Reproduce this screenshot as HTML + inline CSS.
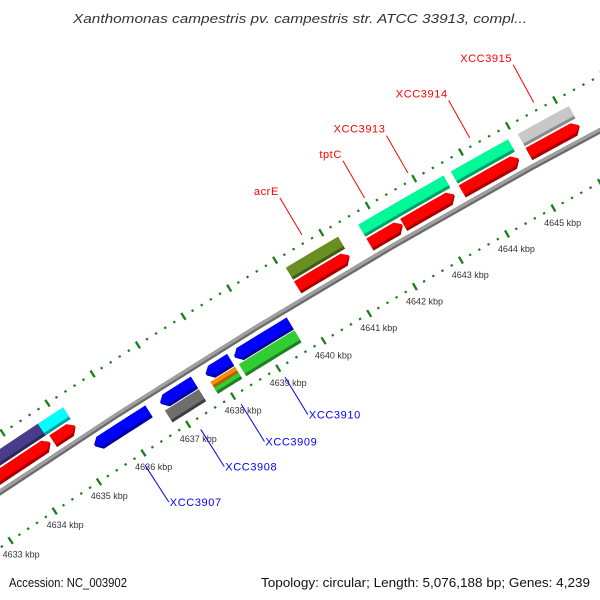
<!DOCTYPE html>
<html><head><meta charset="utf-8"><style>
html,body{margin:0;padding:0;background:#fff;width:600px;height:600px;overflow:hidden;}
svg{display:block;font-family:"Liberation Sans",sans-serif;overflow:hidden;}
</style></head><body>
<svg id="map" width="600" height="600" viewBox="0 0 600 600" xmlns="http://www.w3.org/2000/svg">
<rect width="600" height="600" fill="#fff"/>
<text x="300" y="23" text-anchor="middle" font-size="13" font-style="italic" fill="#333" textLength="454" lengthAdjust="spacingAndGlyphs">Xanthomonas campestris pv. campestris str. ATCC 33913, compl...</text>
<g id="rulers"></g>
<g id="backbone"></g>
<g id="features"></g>
<g id="labels"></g>
<text x="9" y="587" font-size="12.5" fill="#111" textLength="118" lengthAdjust="spacingAndGlyphs">Accession: NC_003902</text>
<text x="590" y="587" text-anchor="end" font-size="12.5" fill="#111" textLength="329" lengthAdjust="spacingAndGlyphs">Topology: circular; Length: 5,076,188 bp; Genes: 4,239</text>
</svg>
<script>
// ---- data (kbp) ----
const arrowStarts  = [4632.4, 4634.70, 4640.10, 4641.67, 4642.40, 4643.66, 4645.09, 4635.30, 4636.77, 4637.78, 4638.41];
const arrowEnds    = [4634.64, 4635.20, 4641.23, 4642.38, 4643.50, 4644.88, 4646.17, 4636.51, 4637.52, 4638.32, 4639.63];
const arrowStrands = [1, 1, 1, 1, 1, 1, 1, -1, -1, -1, -1];
const cogStarts = [4632.4, 4634.64, 4640.10, 4641.67, 4642.38, 4643.66, 4645.09, 4636.77, 4637.78, 4637.78, 4638.41];
const cogEnds   = [4634.64, 4635.20, 4641.23, 4642.38, 4643.50, 4644.88, 4646.17, 4637.52, 4638.32, 4638.32, 4639.63];
const cogStrands = [1, 1, 1, 1, 1, 1, 1, -1, -1, -1, -1];
const cogParts  = [0, 0, 0, 0, 0, 0, 0, 0, 1, 2, 0];
const cogColors = ["#483d8b","#00ffff","#6b8e23","#00fa9a","#00fa9a","#00fa9a","#c8c8c8","#6e6e6e","#ff8c00","#32cd32","#32cd32"];
const cogDark   = ["#2e2659","#00a0a0","#435a16","#00a064","#00a064","#00a064","#8a8a8a","#3e3e3e","#b05f00","#1f801f","#1f801f"];
const labelNames   = ["acrE","tptC","XCC3913","XCC3914","XCC3915","XCC3907","XCC3908","XCC3909","XCC3910"];
const labelPos     = [4640.67, 4642.02, 4642.95, 4644.27, 4645.63, 4635.90, 4637.15, 4638.05, 4639.02];
const labelStrands = [1, 1, 1, 1, 1, -1, -1, -1, -1];
const rulerLabels  = [4633,4634,4635,4636,4637,4638,4639,4640,4641,4642,4643,4644,4645];

// ---- geometry ----
const CX = 4000, CY = 6444, A0 = 237.23, K0 = 4636, DEG_PER_KBP = 0.4267;
const R_BACK = 7171, R_OUT_RULER = 7219, R_IN_RULER = 7125;
function ang(k){ return (A0 + (k - K0) * DEG_PER_KBP) * Math.PI / 180; }
function pt(k, r){ const a = ang(k); return [CX + r*Math.cos(a), CY + r*Math.sin(a)]; }
function arcPts(k0, k1, r){ const out=[]; const n=6; for(let i=0;i<=n;i++){ out.push(pt(k0+(k1-k0)*i/n, r)); } return out; }
function poly(pts){ return pts.map(p=>p[0].toFixed(2)+","+p[1].toFixed(2)).join(" "); }
const NS = "http://www.w3.org/2000/svg";
function mk(tag, attrs, parent){ const e=document.createElementNS(NS,tag); for(const k in attrs) e.setAttribute(k, attrs[k]); parent.appendChild(e); return e; }

// backbone
const bb = document.getElementById("backbone");
let p1 = mk("polyline", {points: poly(arcPts(4630, 4648, R_BACK)), fill:"none", stroke:"#6a6a6a", "stroke-width":"5.5"}, bb);


let p2 = mk("polyline", {points: poly(arcPts(4630,4648,R_BACK+1)), fill:"none", stroke:"#a0a0a0", "stroke-width":"3"}, bb);



// rulers
const rg = document.getElementById("rulers");
[R_OUT_RULER, R_IN_RULER].forEach(function(r){
  for (let i = 0; i <= 90; i++) {
    const k = 4630 + i * 0.2;
    const major = (i % 5 === 0);
    const half = major ? 4 : 1.1;
    const a = pt(k, r - half), b = pt(k, r + half);
    const t = mk("line", {x1:a[0], y1:a[1], x2:b[0], y2:b[1], stroke:"#168016", "stroke-width": 2.3}, rg);
    
    
  }
});
rulerLabels.forEach(function(k){
  const p = pt(k, R_IN_RULER - 17);
  const t = mk("text", {x:(p[0]+1).toFixed(1), y:(p[1]+3).toFixed(1), "text-anchor":"middle", "font-size":"9", fill:"#333"}, rg);
  t.textContent = k + " kbp";
  
  
});

// features
const fg = document.getElementById("features");
function boxShape(k0, k1, rIn, rOut){ return arcPts(k0,k1,rOut).concat(arcPts(k0,k1,rIn).reverse()); }
function arrowShape(k0, k1, rIn, rOut, strand){
  const head = 0.12, mid = (rIn + rOut) / 2;
  if (strand > 0) {
    const kb = Math.max(k0, k1 - head);
    return arcPts(k0,kb,rOut).concat([pt(k1, mid)]).concat(arcPts(k0,kb,rIn).reverse());
  } else {
    const kb = Math.min(k1, k0 + head);
    return [pt(k0, mid)].concat(arcPts(kb,k1,rOut)).concat(arcPts(kb,k1,rIn).reverse());
  }
}
cogStarts.forEach(function(s, i){
  const e = cogEnds[i];
  let rIn, rOut;
  if (cogStrands[i] > 0) { rIn = 7193; rOut = 7207; } else { rIn = 7135; rOut = 7149; }
  if (cogParts[i] === 1) { rIn = (rIn + rOut) / 2; }
  if (cogParts[i] === 2) { rOut = (rIn + rOut) / 2; }
  const g = mk("g", {}, fg);
  
  
  mk("polygon", {points: poly(boxShape(s, e, rIn, rOut)), fill: cogDark[i]}, g);
  mk("polygon", {points: poly(boxShape(s, e, rIn + 3, rOut)), fill: cogColors[i]}, g);
});
arrowStarts.forEach(function(s, i){
  const e = arrowEnds[i], st = arrowStrands[i];
  let rIn, rOut, col, dark;
  if (st > 0) { rIn = 7177; rOut = 7191; col = "#ff0000"; dark = "#a80000"; }
  else { rIn = 7150; rOut = 7164; col = "#0000ff"; dark = "#0000a0"; }
  const g = mk("g", {}, fg);
  
  
  mk("polygon", {points: poly(arrowShape(s, e, rIn, rOut, st)), fill: dark}, g);
  mk("polygon", {points: poly(arrowShape(s, e, rIn + 3, rOut, st)), fill: col}, g);
});

// labels
const lg = document.getElementById("labels");
labelNames.forEach(function(name, i){
  const k = labelPos[i], st = labelStrands[i];
  const col = st > 0 ? "#ff0000" : "#0000ff";
  const a = st > 0 ? pt(k, 7227) : pt(k, 7114);
  const b = st > 0 ? pt(k, 7270) : pt(k, 7070);
  const l = mk("line", {x1:a[0], y1:a[1], x2:b[0], y2:b[1], stroke: col, "stroke-width":"1"}, lg);
  
  
  const t = mk("text", st > 0
      ? {x:(b[0]-1).toFixed(1), y:(b[1]-3).toFixed(1), "text-anchor":"end", "font-size":"11", fill: col, "letter-spacing":"0.6"}
      : {x:(b[0]+1).toFixed(1), y:(b[1]+4).toFixed(1), "text-anchor":"start", "font-size":"11", fill: col, "letter-spacing":"0.6"}, lg);
  t.textContent = name;
  
  
});
</script>
</body></html>
